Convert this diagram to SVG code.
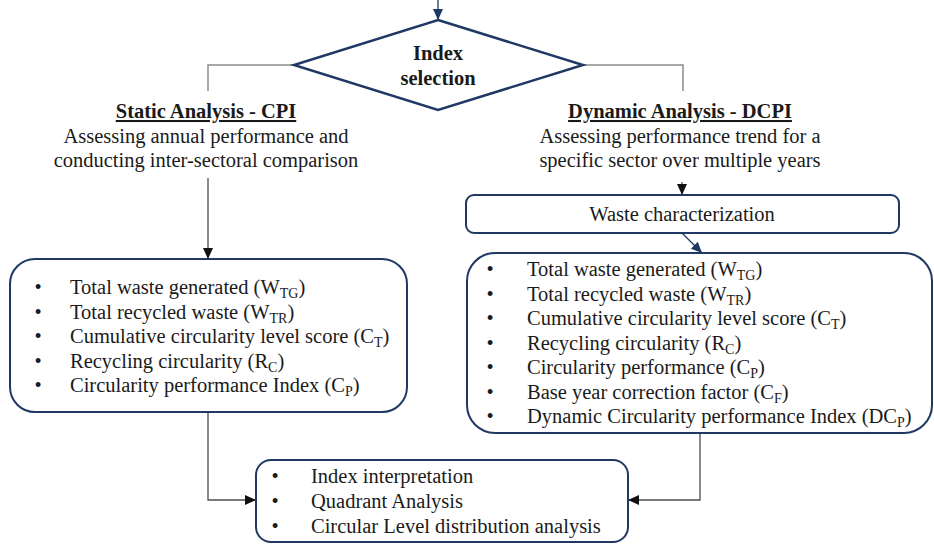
<svg xmlns="http://www.w3.org/2000/svg" width="934" height="545" viewBox="0 0 934 545">
  <style>
    text { font-family: "Liberation Serif", "Times New Roman", serif; font-size: 20.5px; fill: #1a1a1a; }
    .bold { font-weight: bold; }
    .mid { text-anchor: middle; }
    .sub { font-size: 14px; }
    .box { fill: #ffffff; stroke: #1f3864; stroke-width: 2; }
    .diamond { fill: #ffffff; stroke: #1f3864; stroke-width: 2.5; }
    .gray { fill: none; stroke: #8c8c8c; stroke-width: 1.5; }
    .dark { fill: none; stroke: #4d4d4d; stroke-width: 1.3; }
    .navy { fill: none; stroke: #1f3864; stroke-width: 1.3; }
  </style>
  <defs>
    <marker id="headBlack" markerUnits="userSpaceOnUse" markerWidth="11" markerHeight="10" refX="11" refY="5" orient="auto">
      <path d="M0,0 L11,5 L0,10 z" fill="#111111"/>
    </marker>
    <marker id="headNavy" markerUnits="userSpaceOnUse" markerWidth="11" markerHeight="10" refX="11" refY="5" orient="auto">
      <path d="M0,0 L11,5 L0,10 z" fill="#1f3864"/>
    </marker>
  </defs>

  <!-- connectors -->
  <g id="connectors">
    <line class="navy" x1="438" y1="0" x2="438" y2="20" marker-end="url(#headNavy)"/>
    <polyline class="gray" points="294,65 208,65 208,91"/>
    <polyline class="gray" points="583,65 683,65 683,91"/>
    <line class="dark" x1="208" y1="178" x2="208" y2="259" marker-end="url(#headBlack)"/>
    <line class="dark" x1="682" y1="182" x2="682" y2="195" marker-end="url(#headBlack)"/>
    <line class="navy" x1="682" y1="233" x2="702" y2="253" marker-end="url(#headNavy)"/>
    <polyline class="dark" points="208,412 208,500 256,500" marker-end="url(#headBlack)"/>
    <polyline class="dark" points="700,433 700,500 628,500" marker-end="url(#headBlack)"/>
  </g>

  <!-- decision -->
  <g id="index-selection">
    <polygon class="diamond" points="438,20 583,65 438,110 294,65"/>
    <text class="bold mid" x="438" y="60">Index</text>
    <text class="bold mid" x="438" y="85">selection</text>
  </g>

  <!-- static branch heading -->
  <g id="static-analysis">
    <text class="bold mid" x="206" y="118" text-decoration="underline">Static Analysis - CPI</text>
    <text class="mid" x="206" y="143">Assessing annual performance and</text>
    <text class="mid" x="206" y="167">conducting inter-sectoral comparison</text>
  </g>

  <!-- dynamic branch heading -->
  <g id="dynamic-analysis">
    <text class="bold mid" x="680" y="118" text-decoration="underline">Dynamic Analysis - DCPI</text>
    <text class="mid" x="680" y="143">Assessing performance trend for a</text>
    <text class="mid" x="680" y="167">specific sector over multiple years</text>
  </g>

  <!-- waste characterization -->
  <g id="waste-characterization">
    <rect class="box" x="466" y="195" width="433" height="38" rx="8"/>
    <text class="mid" x="682" y="221">Waste characterization</text>
  </g>

  <!-- CPI indicators -->
  <g id="cpi-indicators">
    <rect class="box" x="10" y="259" width="397" height="153" rx="25"/>
    <text x="34.5" y="294">•</text>
    <text x="70" y="294">Total waste generated (W<tspan class="sub" dy="4">TG</tspan><tspan dy="-4">)</tspan></text>
    <text x="34.5" y="318.5">•</text>
    <text x="70" y="318.5">Total recycled waste (W<tspan class="sub" dy="4">TR</tspan><tspan dy="-4">)</tspan></text>
    <text x="34.5" y="343">•</text>
    <text x="70" y="343">Cumulative circularity level score (C<tspan class="sub" dy="4">T</tspan><tspan dy="-4">)</tspan></text>
    <text x="34.5" y="367.5">•</text>
    <text x="70" y="367.5">Recycling circularity (R<tspan class="sub" dy="4">C</tspan><tspan dy="-4">)</tspan></text>
    <text x="34.5" y="392">•</text>
    <text x="70" y="392">Circularity performance Index (C<tspan class="sub" dy="4">P</tspan><tspan dy="-4">)</tspan></text>
  </g>

  <!-- DCPI indicators -->
  <g id="dcpi-indicators">
    <rect class="box" x="467" y="253" width="465" height="180" rx="28"/>
    <text x="486.5" y="276">•</text>
    <text x="527" y="276">Total waste generated (W<tspan class="sub" dy="4">TG</tspan><tspan dy="-4">)</tspan></text>
    <text x="486.5" y="300.5">•</text>
    <text x="527" y="300.5">Total recycled waste (W<tspan class="sub" dy="4">TR</tspan><tspan dy="-4">)</tspan></text>
    <text x="486.5" y="325">•</text>
    <text x="527" y="325">Cumulative circularity level score (C<tspan class="sub" dy="4">T</tspan><tspan dy="-4">)</tspan></text>
    <text x="486.5" y="349.5">•</text>
    <text x="527" y="349.5">Recycling circularity (R<tspan class="sub" dy="4">C</tspan><tspan dy="-4">)</tspan></text>
    <text x="486.5" y="374">•</text>
    <text x="527" y="374">Circularity performance (C<tspan class="sub" dy="4">P</tspan><tspan dy="-4">)</tspan></text>
    <text x="486.5" y="398.5">•</text>
    <text x="527" y="398.5">Base year correction factor (C<tspan class="sub" dy="4">F</tspan><tspan dy="-4">)</tspan></text>
    <text x="486.5" y="423">•</text>
    <text x="527" y="423">Dynamic Circularity performance Index (DC<tspan class="sub" dy="4">P</tspan><tspan dy="-4">)</tspan></text>
  </g>

  <!-- interpretation -->
  <g id="interpretation">
    <rect class="box" x="256" y="460" width="372" height="82" rx="15"/>
    <text x="271.5" y="483">•</text>
    <text x="311" y="483">Index interpretation</text>
    <text x="271.5" y="508">•</text>
    <text x="311" y="508">Quadrant Analysis</text>
    <text x="271.5" y="533">•</text>
    <text x="311" y="533">Circular Level distribution analysis</text>
  </g>
</svg>
